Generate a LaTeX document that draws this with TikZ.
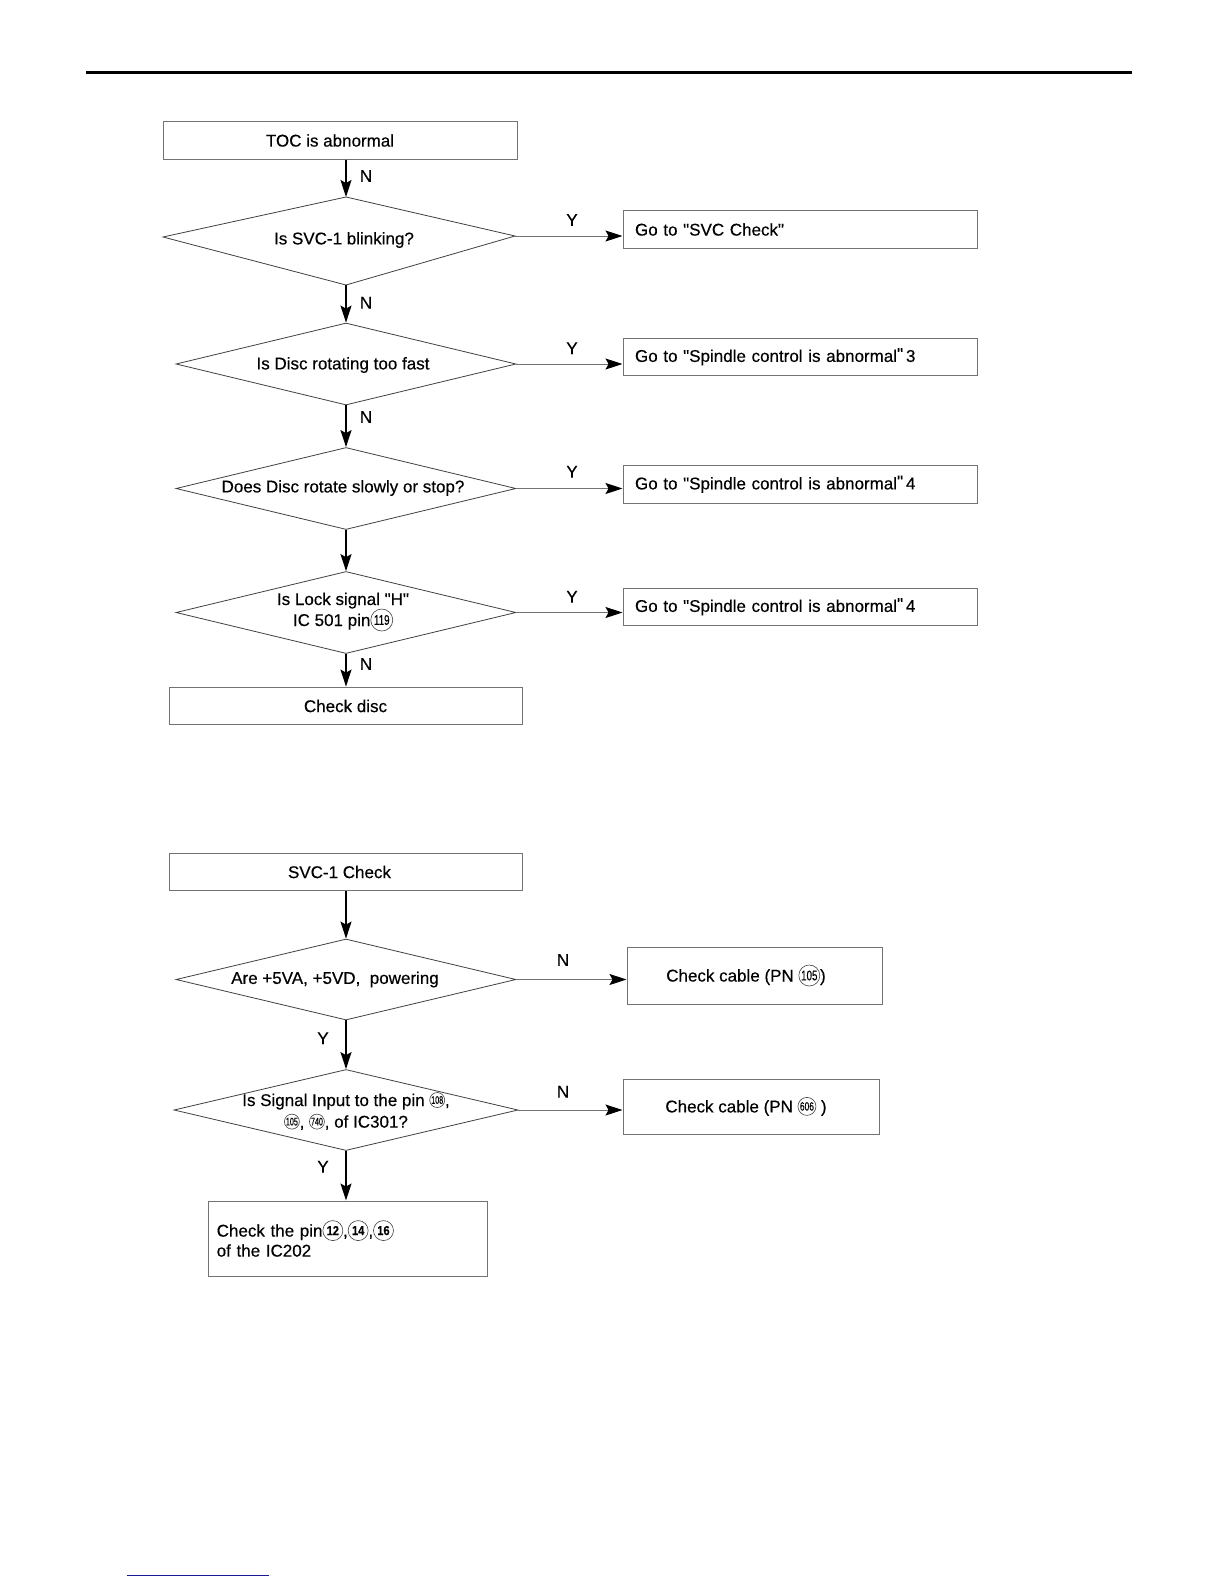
\documentclass[tikz,border=0pt]{standalone}
\usepackage{fontspec}
\setmainfont{Liberation Sans}[FakeBold=0.4,Ligatures=TeXOff]
\usetikzlibrary{shapes.geometric,arrows.meta}
\definecolor{linkblue}{RGB}{25,25,150}
\newcommand\dq{\symbol{34}}
\newcommand\cn[4]{\tikz[baseline={([yshift=-3pt]cn.center)}]\node[circle,draw=black!75,line width=0.3pt,inner sep=0pt,minimum size=#1,text width={},align=center,font=\fontsize{#2}{#2}\selectfont](cn){\scalebox{#3}[1]{#4}};}
\begin{document}
\begin{tikzpicture}[x=0.5pt,y=-0.5pt,font=\fontsize{8.5}{10}\selectfont,
  box/.style={draw=black!55,line width=0.5pt,inner sep=0pt},
  gobox/.style={box,minimum width=177pt,inner xsep=6pt,text width=165pt,align=left},
  diam/.style={diamond,draw=black!75,line width=0.4pt,inner sep=0pt,minimum width=170pt,minimum height=41pt},
  dline/.style={draw=black!75,line width=0.4pt},
  vflow/.style={draw=black,line width=0.65pt,-{Stealth[length=8.5pt,width=5.5pt,inset=1.5pt]}},
  hflow/.style={draw=black!55,line width=0.5pt,-{Stealth[length=8.5pt,width=5.5pt,inset=1.5pt,color=black]}},
  lbl/.style={inner sep=0pt}]
\useasboundingbox (0,0) rectangle (1224,1584);

% page rules
\draw[line width=1.5pt] (86,72.3) -- (1132,72.3);
\draw[linkblue,line width=0.6pt] (126.7,1575.3) -- (269,1575.3);

% ---------- first chart ----------
\node[box,minimum width=177pt,minimum height=18.5pt] (toc) at (340,140.5) {TOC is abnormal\kern10pt};

\coordinate (d1n) at (346,197);
\coordinate (d1e) at (515,236);
\coordinate (d1s) at (346,285);
\coordinate (d1w) at (163,237);
\draw[dline] (d1n) -- (d1e) -- (d1s) -- (d1w) -- cycle;
\node[lbl] (t1) at (344,240) {Is SVC-1 blinking?};

\node[diam] (d2) at (346,364) {};
\node[lbl] (t2) at (343,365) {Is Disc rotating too fast};
\node[diam] (d3) at (346,488.5) {};
\node[lbl] (t3) at (343,488) {Does Disc rotate slowly or stop?};
\node[diam] (d4) at (346,612.5) {};
\node[lbl,align=center,font=\fontsize{8.5}{10.5}\selectfont] (t4) at (343,612) {Is Lock signal \dq H\dq\\IC 501 pin\cn{11pt}{7}{0.7}{119}};

\node[box,minimum width=176.5pt,minimum height=18.9pt] (cd) at (345.5,706) {Check disc};

\node[gobox,minimum height=18.75pt] (g1) at (800,229.5) {Go to \dq SVC Check\dq};
\node[gobox,minimum height=18.5pt] (g2) at (800,356.8) {Go to \dq Spindle control is abnormal\raisebox{1pt}{\dq}\,3};
\node[gobox,minimum height=19pt] (g3) at (800,484.3) {Go to \dq Spindle control is abnormal\raisebox{1pt}{\dq}\,4};
\node[gobox,minimum height=18.5pt] (g4) at (800,606.8) {Go to \dq Spindle control is abnormal\raisebox{1pt}{\dq}\,4};

\draw[vflow] (toc.south -| d1n) -- (d1n);
\draw[vflow] (d1s) -- (d2.north);
\draw[vflow] (d2.south) -- (d3.north);
\draw[vflow] (d3.south) -- (d4.north);
\draw[vflow] (d4.south) -- (d4.south |- cd.north);

\draw[hflow] (d1e) -- (d1e -| g1.west);
\draw[hflow] (d2.east) -- (d2.east -| g2.west);
\draw[hflow] (d3.east) -- (d3.east -| g3.west);
\draw[hflow] (d4.east) -- (d4.east -| g4.west);

\node[lbl] (n1) at (366,176) {N};
\node[lbl] (n2) at (366,302.7) {N};
\node[lbl] (n3) at (366,417) {N};
\node[lbl] (n4) at (366,664) {N};
\node[lbl] (y1) at (572,220) {Y};
\node[lbl] (y2) at (572,348.3) {Y};
\node[lbl] (y3) at (572,471.7) {Y};
\node[lbl] (y4) at (572,596.7) {Y};

% ---------- second chart ----------
\node[box,minimum width=176.5pt,minimum height=18.9pt] (svc) at (345.5,872) {SVC-1 Check\kern6pt};

\node[diam,minimum height=40.5pt] (d5) at (346,979.5) {};
\node[lbl] (t5) at (335,979.5) {Are +5VA, +5VD, \ powering};
\node[diam,minimum width=172pt,minimum height=40.5pt] (d6) at (346,1110) {};
\node[lbl,align=center,font=\fontsize{8.5}{10.8}\selectfont] (t6) at (346,1111) {Is Signal Input to the pin \cn{7.5pt}{5.5}{0.65}{108},\\\cn{7.5pt}{5.5}{0.65}{105}, \cn{7.5pt}{5.5}{0.65}{740}, of IC301?};

\node[box,minimum width=127.5pt,minimum height=28.5pt] (c1) at (754.5,975.5) {Check cable (PN \cn{10.5pt}{7}{0.7}{105})\kern8.5pt};
\node[box,minimum width=128pt,minimum height=27.5pt] (c2) at (751,1106.5) {Check cable (PN \cn{9pt}{6}{0.7}{606} )\kern5pt};

\node[box,minimum width=139.5pt,minimum height=37.5pt,inner xsep=4.35pt,text width=130.8pt,align=left,font=\fontsize{8.5}{10}\selectfont] (fin) at (347.5,1238.5) {Check the pin\cn{10pt}{6.5}{0.85}{\bfseries 12},\cn{10pt}{6.5}{0.85}{\bfseries 14},\cn{10pt}{6.5}{0.85}{\bfseries 16}\\of the IC202};

\draw[vflow] (svc.south -| d5.north) -- (d5.north);
\draw[vflow] (d5.south) -- (d6.north);
\draw[vflow] (d6.south) -- (d6.south |- fin.north);
\draw[hflow] (d5.east) -- (d5.east -| c1.west);
\draw[hflow] (d6.east) -- (d6.east -| c2.west);

\node[lbl] (n5) at (563,960) {N};
\node[lbl] (n6) at (563,1091.7) {N};
\node[lbl] (y5) at (323,1038.3) {Y};
\node[lbl] (y6) at (323,1166.7) {Y};
\end{tikzpicture}
\end{document}
